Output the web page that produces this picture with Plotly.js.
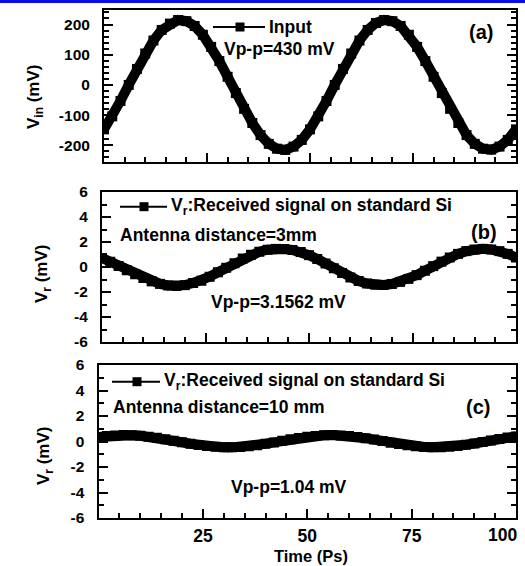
<!DOCTYPE html>
<html><head><meta charset="utf-8">
<script src="https://cdn.plot.ly/plotly-3.0.1.min.js"></script>
<style>html,body{margin:0;padding:0;background:#fff}#chart{width:525px;height:566px}</style>
</head><body><div id="chart"></div>
<script>
// ---- data ----
const time = [0,2,4,6,8,10,12,14,16,18,20,22,24,26,28,30,32,34,36,38,40,42,44,46,48,50,52,54,56,58,60,62,64,66,68,70,72,74,76,78,80,82,84,86,88,90,92,94,96,98,100];
const vin = [-147,-104,-53,0,53,104,147,182,203,215,211,195,166,126,79,27,-27,-79,-126,-166,-195,-211,-215,-204,-182,-147,-104,-53,0,53,104,147,182,205,215,211,195,166,126,79,27,-27,-79,-126,-166,-195,-211,-214,-204,-182,-147];
const vr3mm = [0.72,0.42,0.08,-0.26,-0.58,-0.88,-1.15,-1.35,-1.48,-1.52,-1.45,-1.28,-1.10,-0.78,-0.42,-0.06,0.30,0.68,0.98,1.22,1.38,1.45,1.44,1.36,1.20,0.95,0.64,0.28,-0.10,-0.48,-0.84,-1.12,-1.32,-1.42,-1.44,-1.36,-1.19,-0.95,-0.65,-0.30,0.07,0.43,0.76,1.05,1.27,1.40,1.45,1.40,1.27,1.05,0.76];
const vr10mm = [0.36,0.43,0.48,0.50,0.49,0.45,0.38,0.29,0.18,0.06,-0.06,-0.18,-0.28,-0.36,-0.42,-0.46,-0.46,-0.43,-0.37,-0.29,-0.18,-0.07,0.05,0.17,0.28,0.38,0.44,0.49,0.50,0.48,0.43,0.36,0.26,0.15,0.03,-0.09,-0.20,-0.30,-0.38,-0.43,-0.46,-0.45,-0.41,-0.35,-0.26,-0.16,-0.04,0.08,0.20,0.31,0.39];
const xTickVals = [25,50,75,100];
const xTickText = ['25','50','75','100'];
const yTickValsA = [-200,-100,0,100,200];
const yTickTextA = ['-200','-100','0','100','200'];
const yTickValsB = [-6,-4,-2,0,2,4,6];
const yTickTextB = ['-6','-4','-2','0','2','4','6'];

// ---- layout helpers ----
const W = 525, H = 566;
const X = p => p / W;
const Y = p => 1 - p / H;
const FONT = 'Liberation Sans, Arial, Helvetica, sans-serif';

function trace(y, xa, ya) {
  return {x: time, y: y, xaxis: xa, yaxis: ya, type: 'scatter', mode: 'lines+markers',
    line: {color: '#000', width: 10}, marker: {symbol: 'square', size: 10, color: '#000'},
    showlegend: false, hoverinfo: 'skip'};
}

// the last tick (100) coincides with the right frame; its label sits flush with the edge
// in the reference, so it is drawn as an annotation below
const lastIdx = xTickText.length - 1;
const axTickVals = xTickVals.slice(0, lastIdx);
const axTickText = xTickText.slice(0, lastIdx);

function xax(d0, d1, anchor, labels) {
  return {domain: [X(d0), X(d1)], anchor: anchor, range: [0, 100], tickmode: 'array',
    tickvals: axTickVals, ticktext: axTickText, showticklabels: labels,
    ticks: 'inside', ticklen: 9, tickwidth: 2, tickcolor: '#000',
    minor: {ticks: 'inside', ticklen: 5, tickwidth: 2, tickcolor: '#000', dtick: 5, tick0: 0},
    showline: true, linewidth: 2, linecolor: '#000', mirror: true,
    showgrid: false, zeroline: false, ticklabelstandoff: 1,
    tickfont: {family: FONT, size: 17.5, weight: 'bold', color: '#000'}};
}
function yax(t, b, anchor, range, vals, text, mdt) {
  return {domain: [Y(b), Y(t)], anchor: anchor, range: range, tickmode: 'array',
    tickvals: vals, ticktext: text,
    ticks: 'inside', ticklen: 9, tickwidth: 2, tickcolor: '#000',
    minor: {ticks: 'inside', ticklen: 5, tickwidth: 2, tickcolor: '#000', dtick: mdt, tick0: 0},
    showline: true, linewidth: 2, linecolor: '#000', mirror: 'ticks',
    showgrid: false, zeroline: false, ticklabelstandoff: 9,
    tickfont: {family: FONT, size: 15.5, weight: 'bold', color: '#000'}};
}

function ann(text, x, y, size, opts) {
  return Object.assign({text: text, x: X(x), y: Y(y), xref: 'paper', yref: 'paper',
    xanchor: 'left', yanchor: 'middle', showarrow: false,
    font: {family: FONT, size: size, weight: 'bold', color: '#000'}}, opts || {});
}
function legendSample(x0, x1, xm, y) {
  return [
    {type: 'line', xref: 'paper', yref: 'paper', x0: X(x0), x1: X(x1), y0: Y(y), y1: Y(y), line: {color: '#000', width: 2}},
    {type: 'rect', xref: 'paper', yref: 'paper', x0: X(xm - 4.5), x1: X(xm + 4.5), y0: Y(y + 4.5), y1: Y(y - 4.5), fillcolor: '#000', line: {width: 0}}
  ];
}

const data = [trace(vin, 'x', 'y'), trace(vr3mm, 'x2', 'y2'), trace(vr10mm, 'x3', 'y3')];

const layout = {
  width: W, height: H, margin: {l: 0, r: 0, t: 0, b: 0},
  paper_bgcolor: '#fff', plot_bgcolor: '#fff', showlegend: false,
  font: {family: FONT, weight: 'bold', color: '#000'},
  xaxis: xax(104, 516, 'y', false),
  yaxis: yax(10, 162, 'x', [-255, 248], yTickValsA, yTickTextA, 20),
  xaxis2: xax(102, 516, 'y2', false),
  yaxis2: yax(192, 342, 'x2', [-6, 6], yTickValsB, yTickTextB, 1),
  xaxis3: xax(98.5, 516, 'y3', true),
  yaxis3: yax(365, 518, 'x3', [-6, 6], yTickValsB, yTickTextB, 1),
  shapes: [
    {type: 'rect', xref: 'paper', yref: 'paper', x0: 0, x1: 1, y0: Y(3), y1: 1, fillcolor: '#0a0af5', line: {width: 0}, layer: 'above'}
  ].concat(legendSample(213, 265, 240, 27), legendSample(120, 167, 144, 206.7), legendSample(112, 160, 137, 381.7)),
  annotations: [
    ann('Input', 267, 27, 17.5),
    ann('Vp-p=430 mV', 222, 49, 17.5),
    ann('(a)', 467, 32, 20),
    ann('V<sub>r</sub>:Received signal on standard Si', 169, 206.7, 17.5),
    ann('Antenna distance=3mm', 118, 235, 17.5),
    ann('(b)', 469, 232, 20),
    ann('Vp-p=3.1562 mV', 209, 302, 17.5),
    ann('V<sub>r</sub>:Received signal on standard Si', 162, 381.7, 17.5),
    ann('Antenna distance=10 mm', 111, 406.7, 17.5),
    ann('(c)', 464, 406.7, 20),
    ann('Vp-p=1.04 mV', 229, 487, 17.5),
    ann(xTickText[lastIdx], 519, 535, 17.5, {xanchor: 'right'}),
    ann('Time (Ps)', 311, 556, 16.5, {xanchor: 'center'}),
    ann('V<sub>in</sub> (mV)', 35, 97, 17, {xanchor: 'center', textangle: -90}),
    ann('V<sub>r</sub> (mV)', 43, 274, 17, {xanchor: 'center', textangle: -90}),
    ann('V<sub>r</sub> (mV)', 45, 456, 17, {xanchor: 'center', textangle: -90})
  ]
};

Plotly.newPlot('chart', data, layout, {staticPlot: true, displayModeBar: false});
</script>
</body></html>
